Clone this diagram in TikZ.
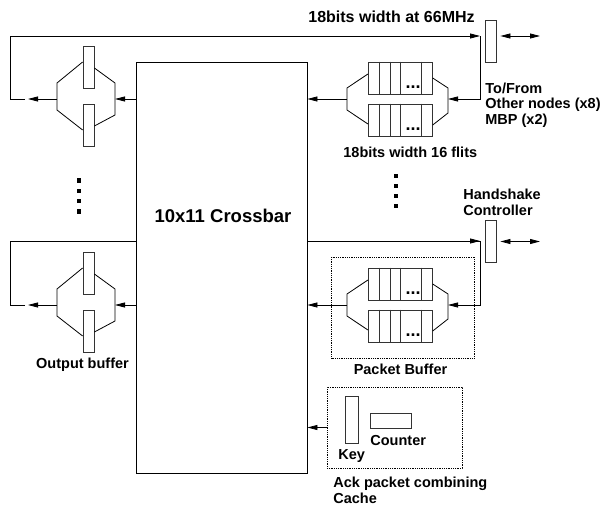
\documentclass[tikz,border=0pt]{standalone}
\usepackage{fontspec}
\setmainfont{Liberation Sans}
\usetikzlibrary{arrows.meta,positioning,calc}
\tikzset{
  lbl/.style={font=\bfseries\fontsize{14.5}{15.5}\selectfont, inner sep=0pt, align=left},
  biglbl/.style={font=\bfseries\fontsize{18.5}{20}\selectfont, inner sep=0pt},
  slice/.style={draw=black!80, fill=white, minimum width=11pt, minimum height=42pt, inner sep=0pt},
  queue/.style={draw=black!80, minimum width=64pt, minimum height=32pt, inner sep=0pt},
  dotbox/.style={draw=black, densely dotted, inner sep=0pt},
  arr/.style={-{Triangle[length=10pt,width=5pt]}, line width=0.8pt},
  dblarr/.style={{Triangle[length=10pt,width=5pt]}-{Triangle[length=10pt,width=5pt]}, line width=0.8pt},
  wire/.style={line width=0.8pt},
  sq/.style={fill=black, minimum size=4.5pt, inner sep=0pt}
}

\begin{document}
\begin{tikzpicture}[x=1pt, y=-1pt, line width=0.8pt]
\useasboundingbox (0,0) rectangle (602,506);

% loop wires behind the crossbar
\coordinate (j1) at (480,36);
\coordinate (j2) at (480,241);
\draw[arr] (25,99) -- (10,99) -- (10,36) -- (j1);
\draw[arr] (25,305) -- (10,305) -- (10,241) -- (j2);

% crossbar
\node[draw, fill=white, minimum width=171pt, minimum height=411pt, inner sep=0pt] (xbar) at (221.5,267.5) {};
\node[biglbl, anchor=base] (xbarlbl) at (223,222) {10x11 Crossbar};

% output buffers (left)
\foreach \c/\n in {99/1, 305/2} {
  \node[slice] (ob\n u) at (88.5,\c-31.5) {};
  \node[slice] (ob\n l) at (88.5,\c+26.5) {};
  \coordinate (ob\n in) at (115,\c);
  \coordinate (ob\n out) at (57,\c);
  \draw (ob\n u.west |- 0,\c-37) -- (57,\c-16) -- (57,\c+11) -- (ob\n l.west |- 0,\c+31);
  \draw (ob\n u.east |- 0,\c-31) -- (115,\c-16) -- (115,\c+16) -- (ob\n l.east |- 0,\c+27);
  \draw[arr] (xbar.west |- ob\n in) -- (ob\n in);
  \draw[arr] (ob\n out) -- (28,\c);
}
\node[lbl, anchor=base] (oblbl) at (82.5,368) {Output buffer};
\foreach \y in {180.5,190.8,201.1,211.4}
  \node[sq] at (79,\y) {};

% packet buffers (right)
\foreach \c/\n in {99/1, 305/2} {
  \node[queue] (pb\n u) at (400.3,\c-21) {};
  \node[queue] (pb\n l) at (400.3,\c+21) {};
  \foreach \q in {pb\n u, pb\n l} {
    \foreach \dx in {11,22,32.5,53.5}
      \draw[black!80] ([xshift=\dx pt]\q.north west) -- ([xshift=\dx pt]\q.south west);
    \node[lbl, font=\bfseries\fontsize{18}{18}\selectfont, anchor=base east] at ([xshift=53pt, yshift=6pt]\q.south west) {...};
  }
  \coordinate (pb\n in) at (448,\c);
  \coordinate (pb\n out) at (347,\c);
  \draw (pb\n u.west |- 0,\c-25) -- (347,\c-11) -- (347,\c+11) -- (pb\n l.west |- 0,\c+25);
  \draw (pb\n u.east |- 0,\c-21) -- (448,\c-11) -- (448,\c+14) -- (pb\n l.east |- 0,\c+26);
  \draw[arr] (j\n) -- (480,\c) -- (pb\n in);
  \draw[arr] (pb\n out) -- (xbar.east |- pb\n out);
}
\node[lbl, anchor=base west] (flits) at (343,157) {18bits width 16 flits};
\foreach \y in {175.7,185.7,195.7,205.7}
  \node[sq, minimum size=4pt] at (395.7,\y) {};
\node[dotbox, minimum width=143pt, minimum height=101pt] (pbuf) at (403,307.5) {};
\node[lbl, anchor=base] (pbuflbl) at (400.5,374) {Packet Buffer};
\draw[wire] (xbar.east |- j2) -- (j2);

% interfaces
\node[slice] (if1) at (490.5,41) {};
\node[slice] (if2) at (490.5,241) {};
\coordinate (ext1) at (540,36);
\coordinate (ext2) at (540,241.5);
\draw[dblarr] ([xshift=4pt]if1.east |- ext1) -- (ext1);
\draw[dblarr] ([xshift=4pt]if2.east |- ext2) -- (ext2);
\node[lbl, font=\bfseries\fontsize{16}{17}\selectfont, anchor=base west] (rate) at (308,22) {18bits width at 66MHz};
\node[lbl, anchor=base west] (tofrom) at (485,124) {To/From\\Other nodes (x8)\\MBP (x2)};
\node[lbl, anchor=base west] (hs) at (463,215) {Handshake\\Controller};

% ack packet combining cache
\node[dotbox, minimum width=135pt, minimum height=81pt] (ack) at (394.5,427.5) {};
\node[draw=black!80, minimum width=13pt, minimum height=47pt, inner sep=0pt] (key) at (351.5,419.5) {};
\node[draw=black!80, minimum width=41pt, minimum height=15pt, inner sep=0pt] (cnt) at (390.5,420.5) {};
\node[lbl, anchor=base west] (cntlbl) at (370,445) {Counter};
\node[lbl, anchor=base west] (keylbl) at (338,459) {Key};
\draw[arr] (ack.west) -- (xbar.east |- ack.west);
\node[lbl, anchor=base west] (acklbl) at (333,503) {Ack packet combining\\Cache};
\end{tikzpicture}
\end{document}
